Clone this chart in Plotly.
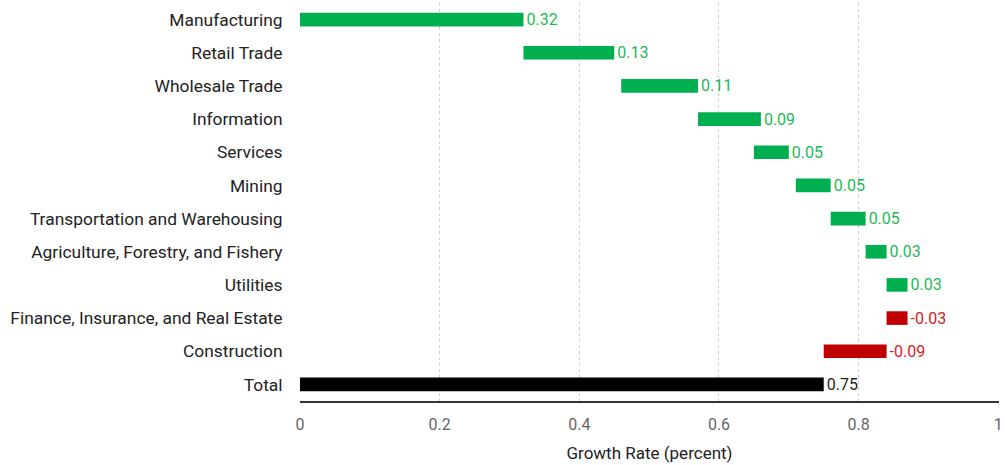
import plotly.graph_objects as go

categories = ["Manufacturing", "Retail Trade", "Wholesale Trade", "Information", "Services",
              "Mining", "Transportation and Warehousing", "Agriculture, Forestry, and Fishery",
              "Utilities", "Finance, Insurance, and Real Estate", "Construction", "Total"]
changes = [0.32, 0.13, 0.11, 0.09, 0.05, 0.05, 0.05, 0.03, 0.03, -0.03, -0.09, 0.75]
bases = [0.0, 0.32, 0.46, 0.57, 0.65, 0.71, 0.76, 0.81, 0.84, 0.87, 0.84, 0.0]
tick_vals = [0, 0.2, 0.4, 0.6, 0.8, 1]
tick_text = ["0", "0.2", "0.4", "0.6", "0.8", "1"]

GREEN, RED, BLACK = "#00B050", "#C00000", "#000000"
TGREEN, TRED, TBLACK = "#1DB954", "#D42020", "#222222"

bar_colors, text_colors = [], []
for c, v in zip(categories, changes):
    if c == "Total":
        bar_colors.append(BLACK); text_colors.append(TBLACK)
    elif v >= 0:
        bar_colors.append(GREEN); text_colors.append(TGREEN)
    else:
        bar_colors.append(RED); text_colors.append(TRED)

# draw each bar from its lower end so labels sit on the right
starts = [b + min(v, 0) for b, v in zip(bases, changes)]
lengths = [abs(v) for v in changes]
labels = [f"{v:.2f}" for v in changes]

fig = go.Figure(go.Bar(
    y=categories, x=lengths, base=starts, orientation="h",
    marker=dict(color=bar_colors, line=dict(width=0)),
    width=0.41,
    text=labels, textposition="outside", cliponaxis=False, constraintext="none",
    textfont=dict(family="Roboto", size=16, color=text_colors),
    hoverinfo="skip",
))

fig.update_layout(
    width=1005, height=465,
    margin=dict(l=300, r=2, t=3, b=64),
    plot_bgcolor="white", paper_bgcolor="white",
    showlegend=False,
    font=dict(family="Roboto", color="#222222"),
)
fig.update_xaxes(
    range=[0, 1.001], tickvals=tick_vals, ticktext=tick_text,
    showgrid=True, gridcolor="#CFCFCF", griddash="dot", gridwidth=1,
    zeroline=False,
    showline=True, linecolor="#333333", linewidth=2,
    tickfont=dict(family="Roboto", size=16, color="#666666"),
    ticklabeloverflow="allow",
    ticks="outside", ticklen=8, tickcolor="white",
    title=dict(text="Growth Rate (percent)", font=dict(family="Roboto", size=17, color="#222222"), standoff=14),
)
fig.update_yaxes(
    categoryorder="array", categoryarray=categories, autorange="reversed",
    tickfont=dict(family="Roboto", size=17.4, color="#222222"),
    ticks="outside", ticklen=13, tickcolor="white",
    showgrid=False, zeroline=False, showline=False,
)

fig.write_html("out.html")
